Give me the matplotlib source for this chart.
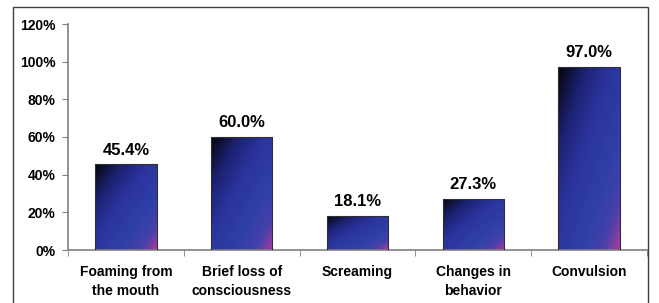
import numpy as np
import matplotlib.pyplot as plt
from matplotlib.colors import LinearSegmentedColormap
from matplotlib.patches import Rectangle
from matplotlib.ticker import MultipleLocator, PercentFormatter

categories = ["Foaming from\nthe mouth", "Brief loss of\nconsciousness", "Screaming",
              "Changes in\nbehavior", "Convulsion"]
values = [45.4, 60.0, 18.1, 27.3, 97.0]
value_labels = ["45.4%", "60.0%", "18.1%", "27.3%", "97.0%"]

plt.rcParams["font.family"] = ["Liberation Sans", "DejaVu Sans"]
plt.rcParams["font.weight"] = "bold"

# diagonal gradient: black corner -> blue -> magenta corner
grad = LinearSegmentedColormap.from_list(
    "bar_grad",
    [(0.0, "#05050c"), (0.22, "#1c2170"), (0.42, "#2a339c"),
     (0.7, "#3040a8"), (0.86, "#4640aa"), (1.0, "#a83c9c")])

fig = plt.figure(figsize=(6.59, 3.03), dpi=100)
ax = fig.add_axes([68 / 659, 1 - 250 / 303, 579 / 659, 226 / 303])

# outer frame
fig.patches.append(Rectangle((13 / 659, -0.1), 635 / 659, 1.1 - 7 / 303,
                             transform=fig.transFigure, fill=False,
                             edgecolor="#404040", linewidth=1.0))

x = np.arange(len(categories))
bars = ax.bar(x, values, width=0.53, facecolor="none", edgecolor="#303030",
              linewidth=0.8, zorder=3)

# gradient fill per bar
uu, ww = np.meshgrid(np.linspace(0, 1, 60), np.linspace(0, 1, 120))
t = 0.5 * uu + 0.5 * ww
for b in bars:
    x0, w, h = b.get_x(), b.get_width(), b.get_height()
    im = ax.imshow(t, cmap=grad, extent=(x0, x0 + w, 0, h), origin="upper",
                   aspect="auto", zorder=2, interpolation="bilinear")
    im.set_clip_path(Rectangle((x0, 0), w, h, transform=ax.transData))

for xi, v, lbl in zip(x, values, value_labels):
    ax.annotate(lbl, (xi, v), xytext=(0, 5), textcoords="offset points",
                ha="center", va="bottom", fontsize=12, fontweight="bold")

ax.set_xlim(-0.5, len(categories) - 0.5)
ax.set_ylim(0, 120)
ax.yaxis.set_major_locator(MultipleLocator(20))
ax.yaxis.set_major_formatter(PercentFormatter(decimals=0))

ax.set_xticks(x)
ax.set_xticklabels(categories, fontsize=10, fontweight="bold", linespacing=1.45)
ax.set_xticks(np.arange(-0.5, len(categories)), minor=True)
ax.tick_params(axis="x", which="major", length=0, pad=11)
ax.tick_params(axis="x", which="minor", length=4, color="#808080", direction="out")
ax.tick_params(axis="y", length=4, color="#808080", labelsize=10, pad=5)
for lab in ax.get_yticklabels():
    lab.set_fontweight("bold")

for s in ["top", "right"]:
    ax.spines[s].set_visible(False)
for s in ["left", "bottom"]:
    ax.spines[s].set_color("#808080")
    ax.spines[s].set_linewidth(1.2)

fig.savefig("out.png", dpi=100)
